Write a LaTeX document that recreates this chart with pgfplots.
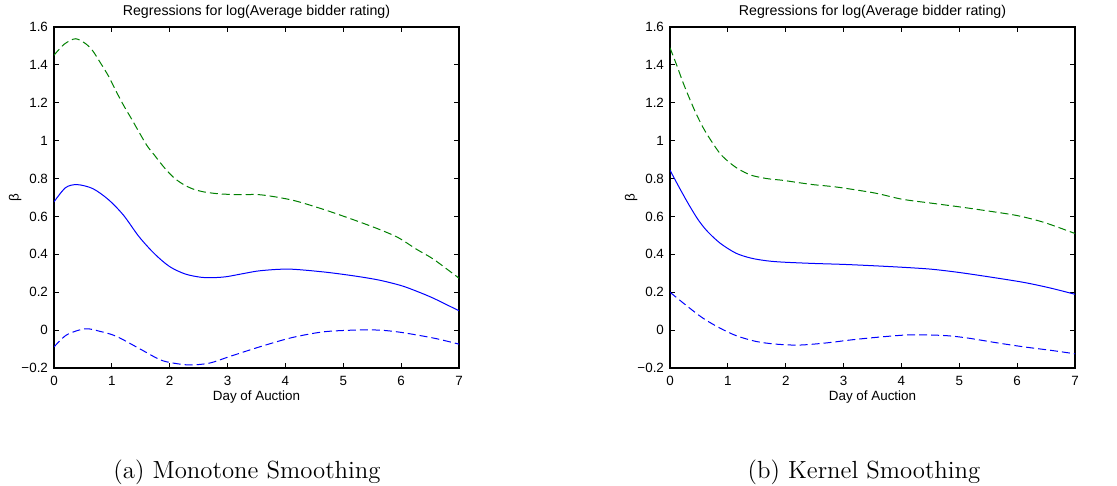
\documentclass[border=0pt]{standalone}
\usepackage{pgfplots}
\pgfplotsset{compat=1.18}
\usepackage{fontspec}
\newfontfamily\arial{Liberation Sans}
\definecolor{mgreen}{rgb}{0,0.5,0}
\definecolor{mblue}{rgb}{0,0,1}
\newcommand\axfont{\arial\fontsize{6.7}{7.5}\selectfont}
\newcommand\tifont{\arial\fontsize{7.1}{8}\selectfont}
\pgfplotsset{
  common/.style={
    scale only axis, width=202.5pt, height=170.5pt,
    xmin=0, xmax=7, ymin=-0.2, ymax=1.6,
    xtick={0,1,2,3,4,5,6,7},
    ytick={-0.2,0,0.2,0.4,0.6,0.8,1,1.2,1.4,1.6},
    yticklabels={−0.2,0,0.2,0.4,0.6,0.8,1,1.2,1.4,1.6},
    /pgf/number format/assume math mode=true,
    tick align=inside, major tick length=2.5pt,
    xtick pos=both, ytick pos=both,
    xticklabel pos=lower, yticklabel pos=left,
    axis line style={line width=0.6pt, black},
    every tick/.style={black, line width=0.5pt},
    tick label style={font=\axfont},
    yticklabel style={xshift=0.5pt},
    every axis title/.style={at={(axis description cs:0.5,1.044)},anchor=center,font=\tifont},
    every axis x label/.style={at={(axis description cs:0.5,-0.084)},anchor=center,font=\axfont},
    every axis y label/.style={at={(axis description cs:-0.096,0.5)},rotate=90,anchor=center,font=\axfont},
    title={Regressions for log(Average bidder rating)},
    xlabel={Day of Auction}, ylabel={β},
    xticklabel style={yshift=-0.5pt},
  },
  up/.style={mgreen, line width=0.5pt, dash pattern=on 4pt off 2pt, smooth},
  mid/.style={mblue, line width=0.5pt, smooth},
  lo/.style={mblue, line width=0.5pt, dash pattern=on 4pt off 2pt, smooth},
}
\begin{document}
\begin{tikzpicture}[x=1pt,y=1pt]
\useasboundingbox (0,0) rectangle (558.5,-243);
\begin{axis}[common, at={(27pt,-184pt)}, anchor=south west]
\addplot[up] coordinates {(0,1.451) (0.18,1.51) (0.375,1.538) (0.56,1.509) (0.67,1.474) (0.8,1.412) (0.94,1.342) (1.07,1.263) (1.205,1.185) (1.34,1.115) (1.47,1.045) (1.607,0.974) (1.74,0.922) (1.9,0.86) (2.06,0.808) (2.22,0.772) (2.4,0.745) (2.6,0.729) (2.87,0.719) (3.2,0.715) (3.58,0.714) (4.12,0.686) (4.66,0.637) (5.19,0.581) (5.62,0.532) (5.95,0.488) (6.27,0.426) (6.56,0.374) (7,0.274)};
\addplot[mid] coordinates {(0,0.677) (0.2,0.752) (0.4,0.768) (0.67,0.747) (0.94,0.689) (1.2,0.607) (1.47,0.493) (1.74,0.402) (2.0,0.335) (2.27,0.296) (2.54,0.279) (2.75,0.277) (2.98,0.282) (3.3,0.300) (3.58,0.314) (4.06,0.322) (4.66,0.307) (5.19,0.286) (5.62,0.264) (6.0,0.235) (6.27,0.205) (6.56,0.168) (7,0.102)};
\addplot[lo] coordinates {(0,-0.089) (0.22,-0.025) (0.54,0.007) (0.8,-0.007) (1.08,-0.033) (1.49,-0.10) (1.83,-0.156) (2.06,-0.174) (2.35,-0.184) (2.69,-0.174) (3.04,-0.139) (3.58,-0.086) (4.12,-0.039) (4.66,-0.009) (5.19,0.0) (5.62,0.0) (6.0,-0.012) (6.56,-0.042) (7,-0.074)};
\end{axis}
\begin{axis}[common, at={(335pt,-184pt)}, anchor=south west]
\addplot[up] coordinates {(0,1.49) (0.12,1.395) (0.225,1.307) (0.33,1.228) (0.44,1.15) (0.57,1.07) (0.71,1.0) (0.87,0.93) (1.03,0.884) (1.19,0.849) (1.4,0.818) (1.67,0.8) (1.94,0.791) (2.21,0.779) (2.47,0.768) (2.74,0.76) (3.0,0.75) (3.55,0.723) (4.01,0.691) (4.52,0.67) (5.04,0.649) (5.56,0.626) (6.01,0.604) (6.47,0.568) (7,0.51)};
\addplot[mid] coordinates {(0,0.844) (0.17,0.747) (0.33,0.66) (0.49,0.581) (0.65,0.52) (0.87,0.458) (1.14,0.406) (1.4,0.38) (1.67,0.366) (1.94,0.359) (2.47,0.352) (2.99,0.347) (3.5,0.34) (4.0,0.332) (4.5,0.322) (4.98,0.305) (5.56,0.279) (6.13,0.251) (6.59,0.221) (7,0.189)};
\addplot[lo] coordinates {(0,0.2) (0.29,0.128) (0.57,0.063) (0.86,0.011) (1.15,-0.03) (1.49,-0.06) (1.83,-0.074) (2.23,-0.079) (2.69,-0.068) (3.15,-0.051) (3.61,-0.037) (4.07,-0.026) (4.41,-0.025) (4.81,-0.03) (5.15,-0.042) (5.67,-0.068) (6.13,-0.089) (6.59,-0.107) (7,-0.125)};
\end{axis}
\node[font=\fontsize{12.4}{14}\selectfont] at (123.5,-236) {(a) Monotone Smoothing};
\node[font=\fontsize{12.4}{14}\selectfont] at (432,-236) {(b) Kernel Smoothing};
\end{tikzpicture}
\end{document}
